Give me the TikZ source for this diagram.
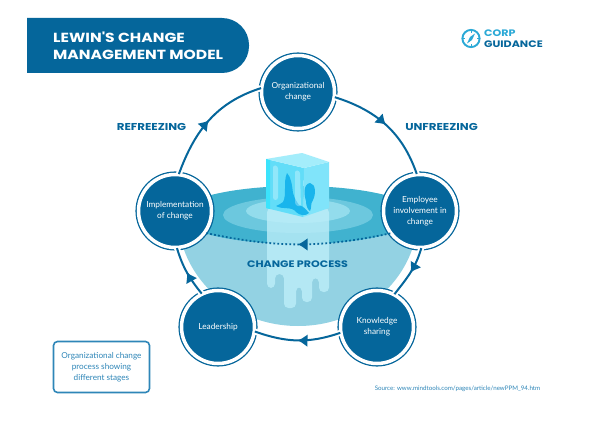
\documentclass[tikz,border=0pt]{standalone}
\usepackage{fontspec}
\setmainfont{Lato}
\newfontfamily\headfont{Poppins}[FakeStretch=1.18]
\usetikzlibrary{arrows.meta,decorations.markings}
\definecolor{deepblue}{HTML}{05669B}
\definecolor{midblue}{HTML}{2E86B8}
\definecolor{bowlblue}{HTML}{93D2E3}
\definecolor{surfblue}{HTML}{40B2CF}
\definecolor{ringblue}{HTML}{6CC8DE}
\definecolor{poolblue}{HTML}{93DCEC}
\definecolor{iceblue}{HTML}{BDEEF9}
\definecolor{logoblue}{HTML}{2BA9D6}
\definecolor{cubefront}{HTML}{62DDF8}
\definecolor{cuberight}{HTML}{80E4FA}
\definecolor{cubetop}{HTML}{A4EDFB}
\definecolor{cubeedge}{HTML}{3BE3FC}
\definecolor{cubeblob}{HTML}{19B5EC}

\begin{document}
\begin{tikzpicture}[%
    x=1pt,y=-1pt,
    stage/.style={
      circle,
      fill=deepblue,
      draw=deepblue,
      line width=1.3pt,
      double=white,
      double distance=3.5pt,
      minimum size=73pt,
      inner sep=0pt,
      text=white,
      align=center,
      font=\fontsize{8.3}{11.2}\selectfont
    },
    line/.style={
      draw=deepblue,
      line width=2pt,
      preaction={draw=white,line width=6pt},
      postaction={decorate},
      decoration={markings,mark=at position 0.5 with {\arrow[deepblue]{Latex[length=10pt,width=13pt]}}}
    },
    dotline/.style={
      draw=deepblue,
      line width=1.8pt,
      dash pattern=on 1.8pt off 2.2pt,
      postaction={decorate},
      decoration={markings,mark=at position 0.5 with {\arrow[deepblue]{Latex[length=10pt,width=13pt]}}}
    },
    head/.style={
      text=deepblue,
      font=\headfont\bfseries\fontsize{10}{11}\selectfont,
      inner sep=0pt
    },
    note/.style={
      text=midblue,
      align=center,
      font=\fontsize{8.2}{11.2}\selectfont,
      inner sep=0pt
    }
  ]
    \useasboundingbox (0,0) rectangle (600,444);
    \fill[white] (0,0) rectangle (600,444);
    % title
    \fill[deepblue] (27,18) [rounded corners=27pt] -- (249,18) -- (249,73) [sharp corners] -- (27,73) -- cycle;
    \draw (53,45.5) node[anchor=west,inner sep=0pt,text=white,align=left,font=\headfont\bfseries\fontsize{13.2}{17}\selectfont] (title) {LEWIN'S CHANGE\\MANAGEMENT MODEL};
    % logo
    \draw[logoblue,line width=1.9pt] (471,38.5) circle (8.6pt);
    \fill[logoblue] (475,33.5) -- (472,40) -- (467,43.5) -- (470,37) -- cycle;
    \foreach \a in {0,90,180,270}
      \draw[logoblue,line width=.8pt] (471,38.5) ++(\a:8.6pt) -- ++(\a:-3pt);
    \draw (484,33.5) node[anchor=west,inner sep=0pt,text=logoblue,font=\headfont\bfseries\fontsize{9.4}{11}\selectfont] (corp) {CORP};
    \draw (484,44.5) node[anchor=west,inner sep=0pt,text=deepblue,font=\headfont\bfseries\fontsize{9.4}{11}\selectfont] (guidance) {GUIDANCE};
    % bowl
    \fill[bowlblue] (178,215) arc[start angle=180,end angle=360,x radius=120pt,y radius=111pt] -- cycle;
    \fill[surfblue] (298,215) ellipse (120pt and 29pt);
    \fill[ringblue] (298,215) ellipse (75pt and 18pt);
    \fill[poolblue] (298,211) ellipse (52pt and 12pt);
    % melting ice
    \fill[iceblue,opacity=.8,rounded corners=4.4pt] (267,208) -- (267,288) -- (275,288) -- (275,274) -- (284,274) -- (284,308) -- (296,308) -- (296,287) -- (302,287) -- (302,302) -- (312,302) -- (312,278) -- (319,278) -- (319,292) -- (329,292) -- (329,208) -- cycle;
    % ice cube
    \fill[cubefront] (266,159) -- (304,168) -- (303,217) -- (266,208) -- cycle;
    \fill[cuberight] (304,168) -- (329,162) -- (329,208) -- (303,217) -- cycle;
    \fill[cubetop] (266,159) -- (302,153) -- (329,162) -- (304,168) -- cycle;
    \fill[cubeedge] (266,159) -- (270,160) -- (270,209) -- (266,208) -- cycle;
    \fill[cubeblob] (287,173) .. controls (283,182) and (287,195) .. (283,202) .. controls (281,204) and (278,205) .. (276,206) .. controls (283,210) and (292,206) .. (296,212) .. controls (300,216) and (306,216) .. (309,213) .. controls (306,210) and (305,207) .. (299,205) .. controls (294,198) and (294,196) .. (293,193) .. controls (292,185) and (291,177) .. (287,173) -- cycle;
    \fill[cubeblob] (310,183) .. controls (303,184) and (304,195) .. (306,201) .. controls (306,206) and (308,210) .. (310,211) .. controls (312,208) and (310,204) .. (313,200) .. controls (316,194) and (316,184) .. (310,183) -- cycle;
    \fill[white,opacity=.3,rounded corners=2.5pt] (295,170) -- (300,171) -- (301,207) -- (295,205) -- cycle;
    \fill[white,opacity=.3,rounded corners=2.5pt] (273,165) -- (278,166) -- (278,200) -- (273,200) -- cycle;
    % stages
    \draw (298,92) node[stage] (org) {Organizational\\change};
    \draw (420,211) node[stage] (emp) {Employee\\involvement in\\change};
    \draw (377,327) node[stage] (know) {Knowledge\\sharing};
    \draw (218,327) node[stage] (lead) {Leadership};
    \draw (175,211) node[stage] (impl) {Implementation\\of change};
    \draw[line] (org.-8) to[out=-17.5,in=109] (emp.95);
    \draw[line] (emp.-88) to[out=-106,in=52] (know.62);
    \draw[line] (know.189) to[out=199,in=-19.5] (lead.-7);
    \draw[line] (lead.116) to[out=129,in=-73] (impl.-87);
    \draw[line] (impl.84) to[out=70,in=197.5] (org.174);
    \draw[dotline] (emp.217) to[out=192,in=-12] (impl.-36);
    % labels
    \draw (151.5,127) node[head] (refreeze) {REFREEZING};
    \draw (441.5,127) node[head] (unfreeze) {UNFREEZING};
    \draw (297.5,264) node[head,font=\headfont\bfseries\fontsize{9.4}{11}\selectfont] (process) {CHANGE PROCESS};
    \draw (101.5,367) node[note,draw=midblue,line width=1.6pt,rounded corners=4pt,minimum width=96pt,minimum height=51pt] (box) {Organizational change\\process showing\\different stages};
    \draw (457.5,389) node[inner sep=0pt,text=midblue,font=\fontsize{6.2}{8}\selectfont] (source) {Source: www.mindtools.com/pages/article/newPPM\_94.htm};
  \end{tikzpicture}
\end{document}
